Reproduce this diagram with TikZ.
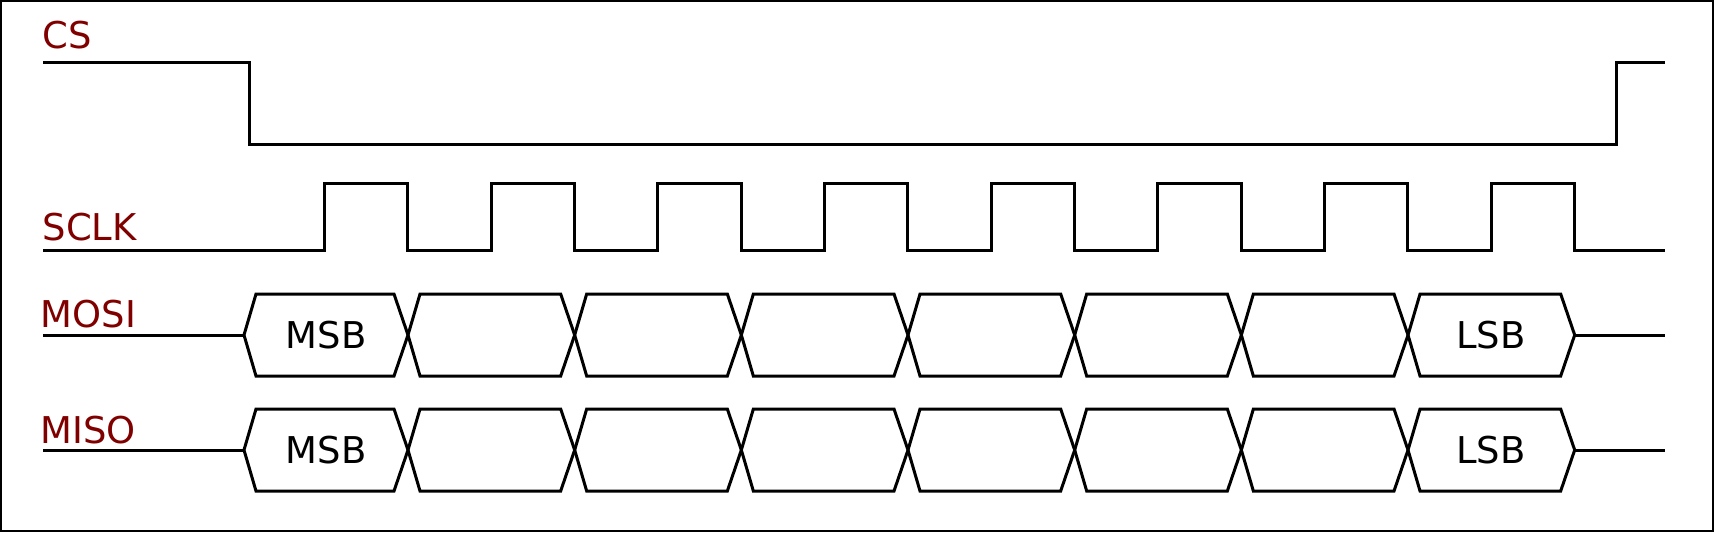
\documentclass[tikz,border=0pt]{standalone}
\usepackage{fontspec}
\setmainfont{DejaVu Sans}
\usetikzlibrary{positioning}

\definecolor{sigred}{HTML}{800000}

\tikzset{
  wave/.style={line width=0.03cm, line join=miter},
  signame/.style={anchor=base west, inner sep=0pt, text=sigred, font=\fontsize{10.5}{12}\selectfont},
  bitname/.style={inner sep=0pt, font=\fontsize{10.5}{12}\selectfont}
}

\begin{document}
\begin{tikzpicture}[x=0.01cm, y=-0.01cm]
  \useasboundingbox (0,0) rectangle (1714,532);
  \draw[line width=0.02cm] (1,1) rectangle (1713,531);

  % signal names
  \node[signame] (cs) at (42,48) {CS};
  \node[signame] (sclk) at (42,240) {SCLK};
  \node[signame] (mosi) at (40,327) {MOSI};
  \node[signame] (miso) at (40,443) {MISO};

  % chip select
  \draw[wave] (43,62) -- (249,62) -- (249,144) -- (1616,144) -- (1616,62) -- (1665,62);

  % clock
  \draw[wave] (43,250) -- (324.5,250)
    \foreach \i in {0,...,7} {
      -- ++(0,-67) -- ++(83.33,0) -- ++(0,67) -- ++(83.33,0)
    } -- (1665,250);

  % data lines
  \foreach \yc/\nm in {335/mosi, 450/miso} {
    \draw[wave] (43,\yc) -- (244,\yc);
    \draw[wave] (1574,\yc) -- (1665,\yc);
    \draw[wave] (244,\yc) -- (256,\yc-41) -- (394,\yc-41) -- (408,\yc)
      -- (394,\yc+41) -- (256,\yc+41) -- cycle;
    \foreach \k in {1,...,7} {
      \pgfmathsetmacro{\lx}{408+166.67*(\k-1)}
      \pgfmathsetmacro{\rx}{408+166.67*\k}
      \draw[wave] (\lx,\yc) -- (\lx+12,\yc-41) -- (\rx-14,\yc-41) -- (\rx,\yc)
        -- (\rx-14,\yc+41) -- (\lx+12,\yc+41) -- cycle;
    }
    \node[bitname] (\nm msb) at (326,\yc) {MSB};
    \node[bitname] (\nm lsb) at (1491,\yc) {LSB};
  }
\end{tikzpicture}
\end{document}
